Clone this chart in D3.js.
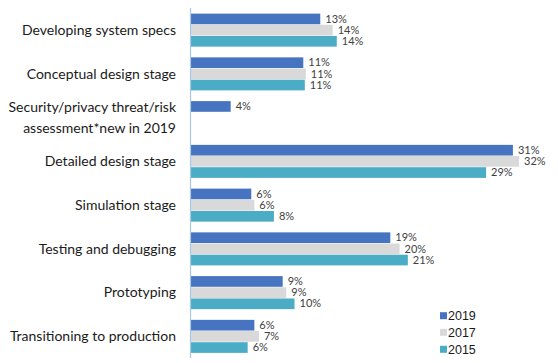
<!DOCTYPE html>
<html><head><meta charset="utf-8">
<script src="https://cdn.jsdelivr.net/npm/d3@7"></script>
<style>body{margin:0;background:#fff}svg{display:block}</style>
</head><body>
<svg id="c" width="558" height="363"></svg>
<script>
const categories = [
  ["Developing system specs"],
  ["Conceptual design stage"],
  ["Security/privacy threat/risk", "assessment*new in 2019"],
  ["Detailed design stage"],
  ["Simulation stage"],
  ["Testing and debugging"],
  ["Prototyping"],
  ["Transitioning to production"]
];
const seriesNames = ["2019", "2017", "2015"];
const values2019 = [12.6, 10.95, 3.9, 31.3, 5.9, 19.4, 8.95, 6.2];
const values2017 = [13.8, 11.2, null, 31.9, 6.2, 20.3, 9.3, 6.65];
const values2015 = [14.2, 11.1, null, 28.7, 8.1, 21.1, 10.1, 5.55];
const colors = ["#4674C1", "#D9D9D9", "#4BACC6"];

const series = [values2019, values2017, values2015];
const svg = d3.select("#c");
const axisX = 190.5;
const x = d3.scaleLinear().domain([0, 1]).range([axisX, axisX + 10.3]);
const y = d3.scaleBand().domain(d3.range(categories.length)).range([8, 358]).paddingInner(0.234).paddingOuter(0.117);
const ySub = d3.scaleBand().domain(d3.range(3)).range([0, y.bandwidth()]);

const g = svg.append("g");
categories.forEach((cat, i) => {
  const gg = g.append("g").attr("transform", `translate(0,${y(i)})`);
  series.forEach((vals, s) => {
    const v = vals[i];
    if (v == null) return;
    gg.append("rect")
      .attr("x", x(0)).attr("y", ySub(s) + 0.5)
      .attr("width", x(v) - x(0)).attr("height", ySub.bandwidth() - 0.5)
      .attr("fill", colors[s]);
    gg.append("text")
      .attr("x", x(v) + 5).attr("y", ySub(s) + ySub.bandwidth() / 2)
      .attr("dy", "0.36em")
      .attr("font-family", "Lato, 'Open Sans', sans-serif")
      .attr("font-size", 11).attr("fill", "#404040")
      .text(Math.round(v) + "%");
  });
  const cy = y(i) + y.bandwidth() / 2;
  const lh = 21;
  const t = g.append("text")
    .attr("x", 176).attr("text-anchor", "end")
    .attr("font-family", "Lato, 'Open Sans', sans-serif")
    .attr("font-size", 14).attr("fill", "#1a1a1a");
  cat.forEach((line, k) => {
    t.append("tspan").attr("x", 176)
      .attr("y", cy + (k - (cat.length - 1) / 2) * lh)
      .attr("dy", "0.36em").text(line);
  });
});

// axis line
svg.append("line").attr("x1", axisX).attr("x2", axisX)
  .attr("y1", 8).attr("y2", 358).attr("stroke", "#A9C8E4").attr("stroke-width", 1.2);

// legend
const legY = [315.7, 332.3, 349.3];
seriesNames.forEach((n, s) => {
  svg.append("rect").attr("x", 440).attr("y", legY[s] - 3.5).attr("width", 7).attr("height", 7).attr("fill", colors[s]);
  svg.append("text").attr("x", 448).attr("y", legY[s]).attr("dy", "0.36em")
    .attr("font-family", "'Liberation Sans', Arial, sans-serif").attr("font-size", 12.5)
    .attr("fill", "#1a1a1a").text(n);
});
</script>
</body></html>
